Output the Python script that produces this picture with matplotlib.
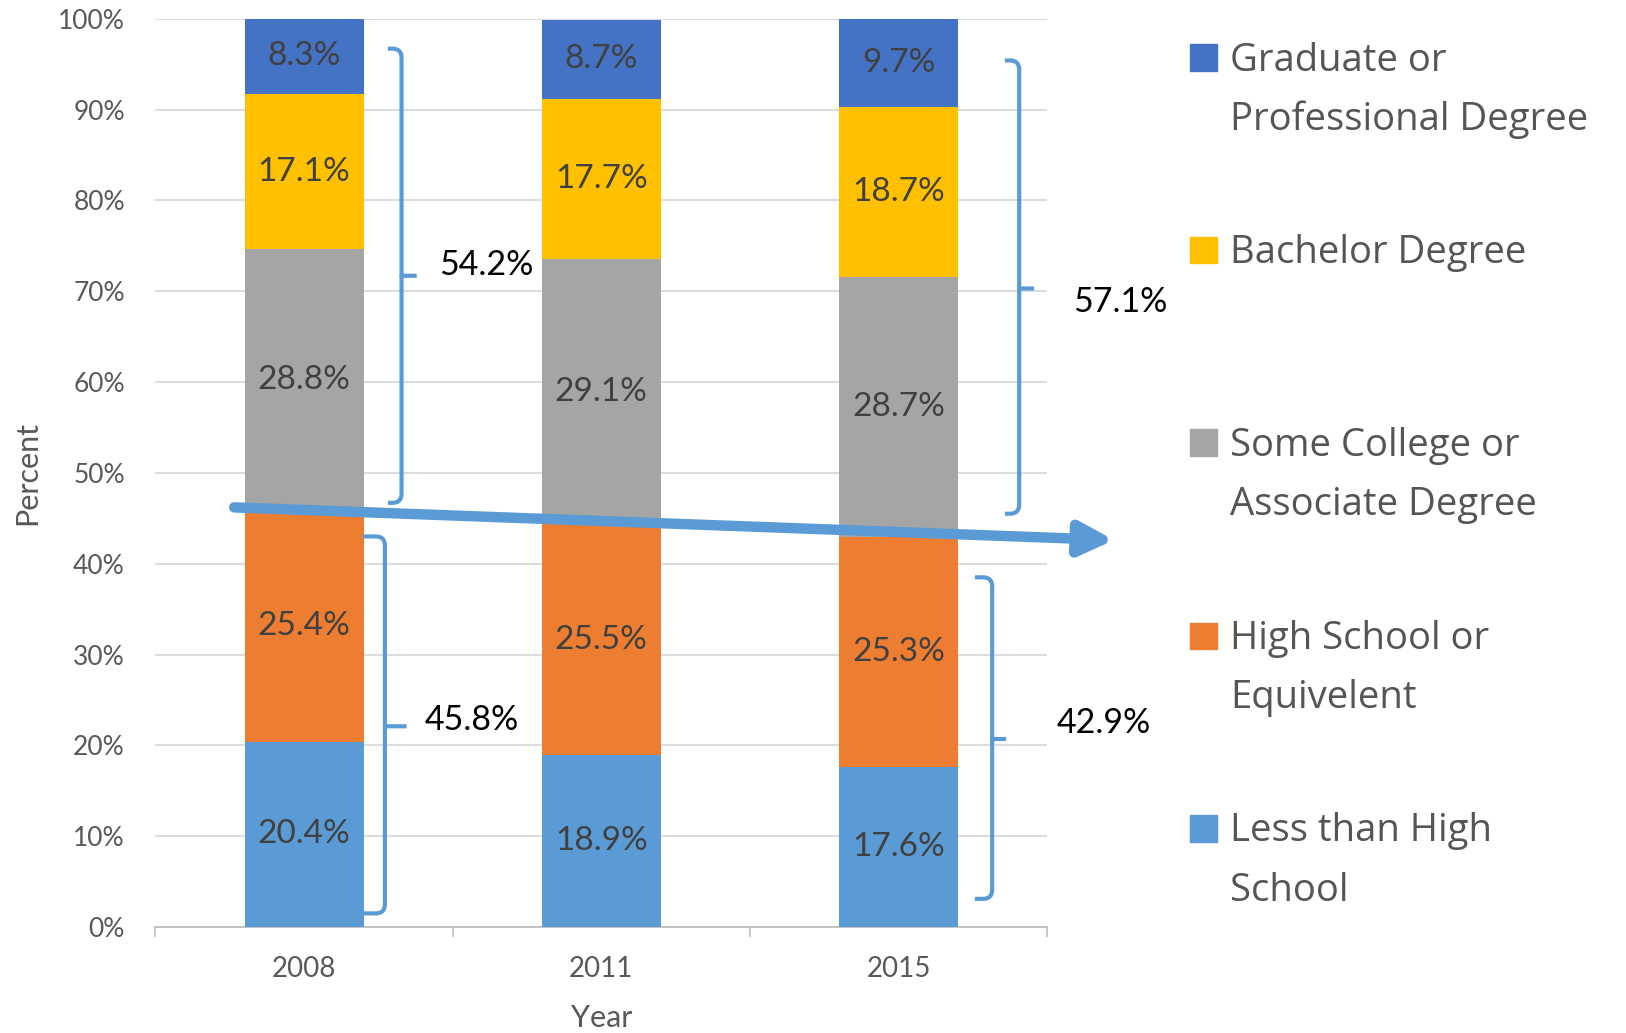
import matplotlib.pyplot as plt
import numpy as np
from matplotlib.path import Path
from matplotlib.patches import PathPatch, Rectangle

plt.rcParams['font.family'] = ['Lato', 'DejaVu Sans']

years = ['2008', '2011', '2015']
levels = ['Less than High\nSchool', 'High School or\nEquivelent',
          'Some College or\nAssociate Degree', 'Bachelor Degree',
          'Graduate or\nProfessional Degree']
less_hs = [20.4, 18.9, 17.6]
high_school = [25.4, 25.5, 25.3]
some_college = [28.8, 29.1, 28.7]
bachelor = [17.1, 17.7, 18.7]
graduate = [8.3, 8.7, 9.7]
colors = ['#5B9BD5', '#ED7D31', '#A5A5A5', '#FFC000', '#4472C4']

# grouped totals shown with the braces
lower_totals = ['45.8%', '42.9%']
upper_totals = ['54.2%', '57.1%']


def brace(ax, hx, vx, tx, ytop, ybot, ytip, rx=0.03, ry=1.0, color='#5B9BD5'):
    verts = [(hx, ytop), (vx - rx, ytop), (vx, ytop), (vx, ytop - ry),
             (vx, ytip), (tx, ytip),
             (vx, ytip), (vx, ybot + ry), (vx, ybot), (vx - rx, ybot), (hx, ybot)]
    codes = [Path.MOVETO, Path.LINETO, Path.CURVE3, Path.CURVE3,
             Path.LINETO, Path.LINETO,
             Path.MOVETO, Path.LINETO, Path.CURVE3, Path.CURVE3, Path.LINETO]
    ax.add_patch(PathPatch(Path(verts, codes), fill=False, edgecolor=color,
                           lw=3.0, capstyle='butt', joinstyle='round', clip_on=False, zorder=5))


def main():
    fig = plt.figure(figsize=(16.26, 10.33), dpi=100)
    ax = fig.add_axes([0.0956, 0.1026, 0.5484, 0.8793])

    x = np.arange(len(years))
    series = [less_hs, high_school, some_college, bachelor, graduate]
    bottom = np.zeros(len(years))
    for vals, c in zip(series, colors):
        vals = np.array(vals)
        ax.bar(x, vals, 0.4, bottom=bottom, color=c, zorder=3)
        for xi, b, v in zip(x, bottom, vals):
            ax.text(xi, b + v / 2, f'{v:.1f}%', ha='center', va='center',
                    fontsize=24, color='#404040', zorder=4)
        bottom = bottom + vals

    ax.set_xlim(-0.5, 2.5)
    ax.set_ylim(0, 100)
    ax.set_yticks(np.arange(0, 101, 10))
    ax.set_yticklabels([f'{v}%' for v in range(0, 101, 10)])
    ax.set_xticks(x)
    ax.set_xticklabels(years)
    ax.set_xticks([-0.5, 0.5, 1.5, 2.5], minor=True)
    ax.tick_params(axis='y', length=0, pad=22, labelsize=19, labelcolor='#595959')
    ax.tick_params(axis='x', which='major', length=0, pad=21, labelsize=20, labelcolor='#595959')
    ax.tick_params(axis='x', which='minor', length=7, width=1.2, color='#BFBFBF')
    ax.grid(axis='y', color='#D9D9D9', lw=1.3, zorder=0)
    for s in ['top', 'right', 'left']:
        ax.spines[s].set_visible(False)
    ax.spines['bottom'].set_color('#BFBFBF')
    ax.spines['bottom'].set_linewidth(1.3)
    ax.set_xlabel('Year', fontsize=22, color='#595959', labelpad=16)
    ax.set_ylabel('Percent', fontsize=22, color='#595959', labelpad=12)

    # braces and group totals
    brace(ax, 0.282, 0.328, 0.379, 96.7, 46.7, 71.7)
    ax.text(0.614, 72.9, upper_totals[0], ha='center', va='center', fontsize=24.5, color='black')
    brace(ax, 0.198, 0.272, 0.345, 43.0, 1.5, 22.1)
    ax.text(0.563, 22.8, lower_totals[0], ha='center', va='center', fontsize=24.5, color='black')
    brace(ax, 2.358, 2.406, 2.456, 95.4, 45.5, 70.3)
    ax.text(2.745, 68.8, upper_totals[1], ha='center', va='center', fontsize=24.5,
            color='black', clip_on=False)
    brace(ax, 2.257, 2.315, 2.362, 38.5, 3.1, 20.7)
    ax.text(2.69, 22.5, lower_totals[1], ha='center', va='center', fontsize=24.5,
            color='black', clip_on=False)

    # trend arrow
    ax.annotate('', xy=(2.725, 42.6), xytext=(-0.235, 46.2), xycoords='data',
                arrowprops=dict(arrowstyle='-|>,head_length=1.0,head_width=0.5',
                                mutation_scale=20, lw=7.5, color='#5B9BD5',
                                shrinkA=0, shrinkB=0),
                annotation_clip=False, zorder=6)

    # legend drawn by hand
    W, H = 1626, 1033
    base_y = [841.5, 649, 456, 263.3, 70.7]
    for lab, c, y in zip(levels, colors, base_y):
        fig.patches.append(Rectangle((1190 / W, 1 - y / H), 26.5 / W, 26.5 / H,
                                     transform=fig.transFigure, color=c))
        for i, line in enumerate(lab.split('\n')):
            fig.text(1230 / W, 1 - (y + i * 59.3) / H, line, ha='left', va='baseline',
                     fontsize=27.5, color='#555555', family=['Open Sans', 'DejaVu Sans'])

    plt.savefig('out.png', dpi=100)


if __name__ == "__main__":
    main()
